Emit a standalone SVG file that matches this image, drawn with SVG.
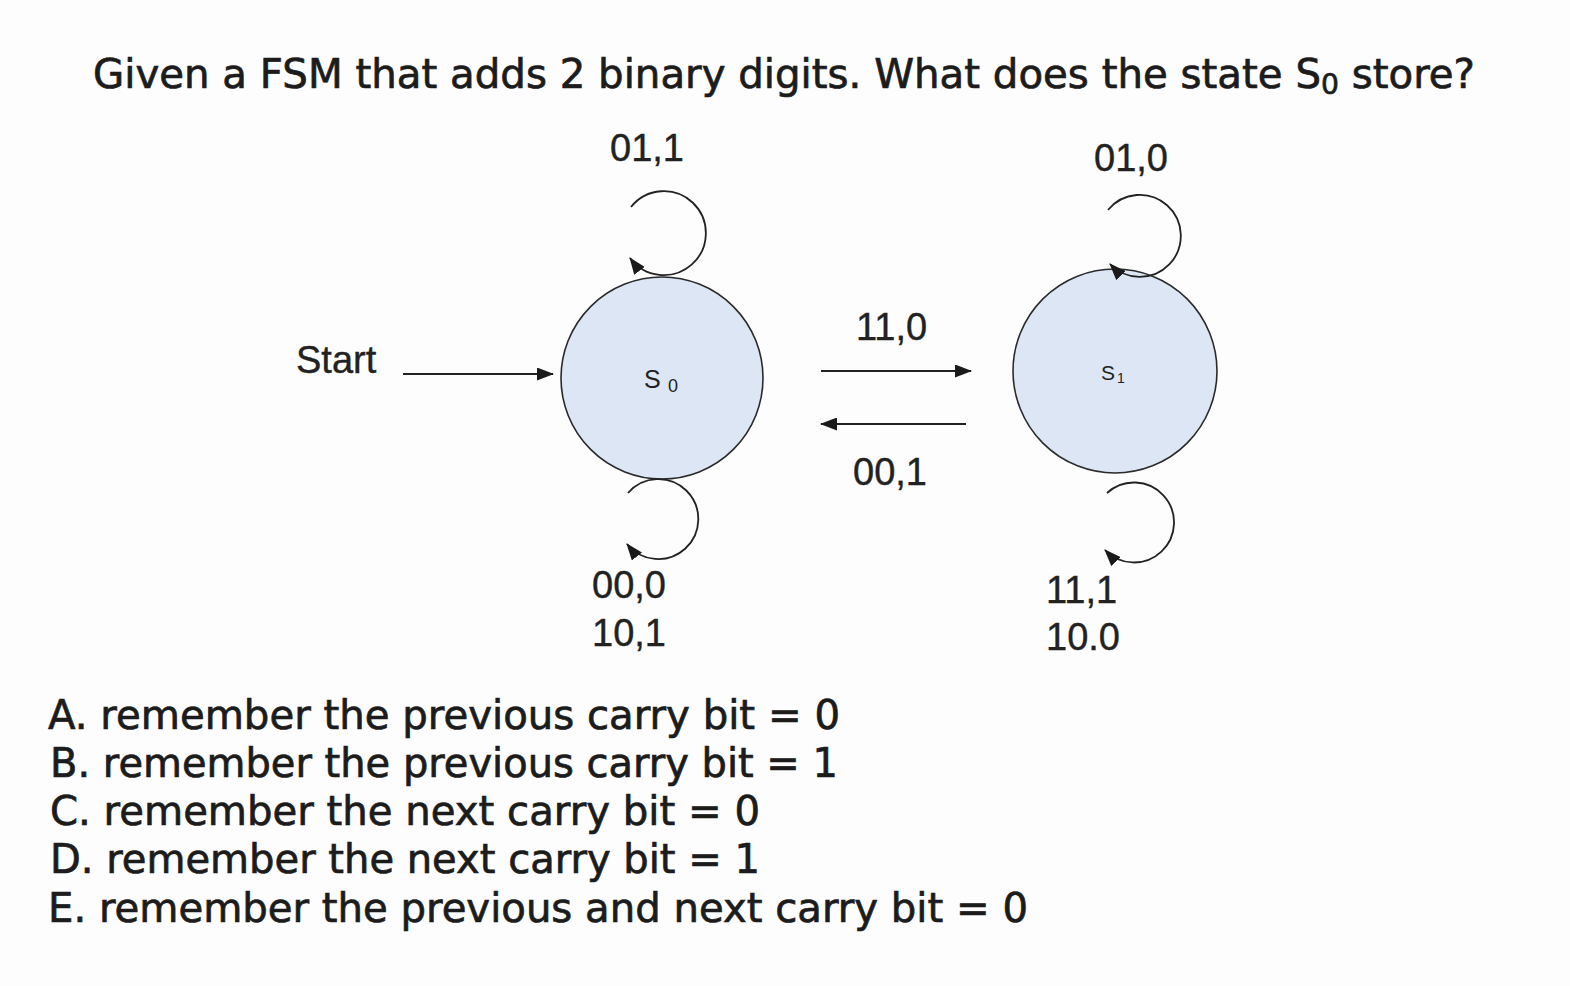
<svg xmlns="http://www.w3.org/2000/svg" width="1570" height="986" viewBox="0 0 1570 986">
<style>
.q{font-family:"DejaVu Sans",Verdana,sans-serif;font-size:40px;fill:#1c1c1c;stroke:#1c1c1c;stroke-width:0.7}
.lb{font-family:"Liberation Sans",Arial,sans-serif;font-size:38px;fill:#222;stroke:#222;stroke-width:0.4}
.st{fill:#dce6f5;stroke:#2a2a2a;stroke-width:1.6}
.ln{fill:none;stroke:#222;stroke-width:1.8}
.sl{font-family:"Liberation Sans",Arial,sans-serif;fill:#222}
</style>
<defs>
<marker id="ah" markerWidth="17" markerHeight="13" refX="16" refY="6.5" orient="auto" markerUnits="userSpaceOnUse">
<path d="M0,0 L17,6.5 L0,13 Z" fill="#1a1a1a"/>
</marker>
</defs>
<rect width="1570" height="986" fill="#fdfdfd"/>
<text id="title" class="q" x="93" y="88" textLength="1382" lengthAdjust="spacingAndGlyphs">Given a FSM that adds 2 binary digits. What does the state S<tspan font-size="28" dy="6">0</tspan><tspan dy="-6"> store?</tspan></text>
<g id="S0">
<circle class="st" cx="662" cy="378" r="101"/>
<text class="sl" x="644" y="388" font-size="25">S</text>
<text class="sl" x="668" y="392" font-size="18">0</text>
</g>
<g id="S1">
<circle class="st" cx="1115" cy="371" r="102"/>
<text class="sl" x="1101" y="380" font-size="21">S</text>
<text class="sl" x="1117" y="383" font-size="14">1</text>
</g>
<g id="start">
<text class="lb" x="296" y="373">Start</text>
</g>
<g id="connectors">
<line class="ln" x1="403" y1="374" x2="553" y2="374" marker-end="url(#ah)"/>
<line class="ln" x1="821" y1="371" x2="971" y2="371" marker-end="url(#ah)"/>
<line class="ln" x1="966" y1="424" x2="821" y2="424" marker-end="url(#ah)"/>
<path class="ln" d="M631,207 A42,42 0 1,1 630,258" marker-end="url(#ah)"/>
<path class="ln" d="M628,493 A40,40 0 1,1 627,544" marker-end="url(#ah)"/>
<path class="ln" d="M1108,210 A41,41 0 1,1 1110,264" marker-end="url(#ah)"/>
<path class="ln" d="M1107,493 A40,40 0 1,1 1105,550" marker-end="url(#ah)"/>
</g>
<g id="labels">
<text class="lb" x="610" y="161">01,1</text>
<text class="lb" x="1094" y="171">01,0</text>
<text class="lb" x="856" y="340">11,0</text>
<text class="lb" x="853" y="485">00,1</text>
<text class="lb" x="592" y="598">00,0</text>
<text class="lb" x="592" y="646">10,1</text>
<text class="lb" x="1046" y="603">11,1</text>
<text class="lb" x="1046" y="650">10.0</text>
</g>
<g id="options">
<text class="q" x="48" y="729" textLength="792" lengthAdjust="spacingAndGlyphs">A. remember the previous carry bit = 0</text>
<text class="q" x="50" y="777" textLength="788" lengthAdjust="spacingAndGlyphs">B. remember the previous carry bit = 1</text>
<text class="q" x="50" y="825" textLength="710" lengthAdjust="spacingAndGlyphs">C. remember the next carry bit = 0</text>
<text class="q" x="50" y="873" textLength="710" lengthAdjust="spacingAndGlyphs">D. remember the next carry bit = 1</text>
<text class="q" x="48" y="922" textLength="980" lengthAdjust="spacingAndGlyphs">E. remember the previous and next carry bit = 0</text>
</g>
</svg>
